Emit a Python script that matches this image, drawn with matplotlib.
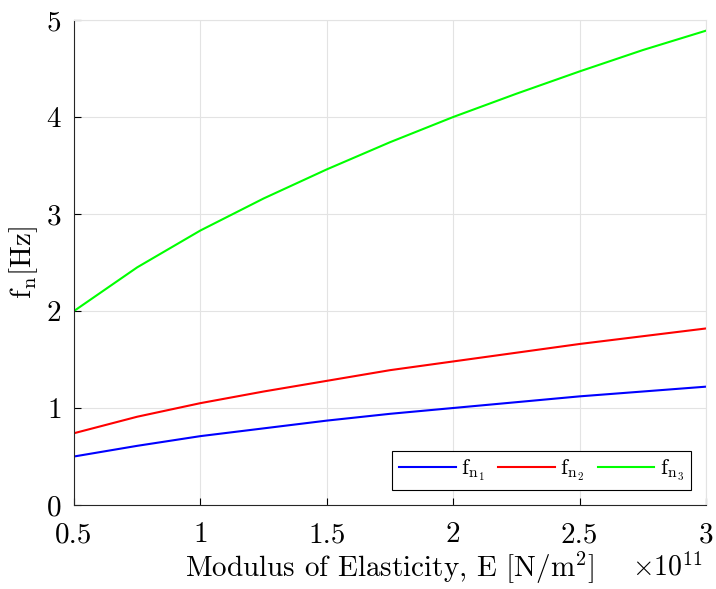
import matplotlib
matplotlib.use('Agg')
import matplotlib.pyplot as plt

# Computer Modern look, like a MATLAB/LaTeX figure
plt.rcParams['font.family'] = 'serif'
plt.rcParams['font.serif'] = ['cmr10', 'DejaVu Serif']
plt.rcParams['mathtext.fontset'] = 'cm'
plt.rcParams['axes.formatter.use_mathtext'] = True

### Data (E in units of 1e11 N/m^2) ###
E = [0.5, 0.75, 1.0, 1.25, 1.5, 1.75, 2.0, 2.25, 2.5, 2.75, 3.0]
fn1 = [0.50, 0.61, 0.71, 0.79, 0.87, 0.94, 1.00, 1.06, 1.12, 1.17, 1.22]
fn2 = [0.74, 0.91, 1.05, 1.17, 1.28, 1.39, 1.48, 1.57, 1.66, 1.74, 1.82]
fn3 = [2.00, 2.45, 2.83, 3.16, 3.46, 3.74, 4.00, 4.24, 4.47, 4.69, 4.89]

xticks = [0.5, 1, 1.5, 2, 2.5, 3]
xticklabels = ['0.5', '1', '1.5', '2', '2.5', '3']
yticks = [0, 1, 2, 3, 4, 5]

fig = plt.figure(figsize=(7.16, 5.89), dpi=100)
ax = fig.add_axes([74/716, 84/589, 632/716, 485/589])

ax.plot(E, fn1, color='#0000ff', lw=1.5, label=r'$\mathrm{f_{n_1}}$')
ax.plot(E, fn2, color='#ff0000', lw=1.5, label=r'$\mathrm{f_{n_2}}$')
ax.plot(E, fn3, color='#00ff00', lw=1.5, label=r'$\mathrm{f_{n_3}}$')

ax.set_xlim(0.5, 3)
ax.set_ylim(0, 5)
ax.set_xticks(xticks)
ax.set_xticklabels(xticklabels)
ax.set_yticks(yticks)
ax.grid(True, color='#e3e3e3', lw=0.8)
ax.set_axisbelow(True)
ax.tick_params(direction='in', length=5, width=0.8, labelsize=21,
               top=False, right=False)
ax.tick_params(axis='x', pad=12)
ax.tick_params(axis='y', pad=9)
for s in ['top', 'right']:
    ax.spines[s].set_color('#e3e3e3')
for s in ['left', 'bottom']:
    ax.spines[s].set_color('#262626')
    ax.spines[s].set_linewidth(0.8)

ax.set_xlabel(r'Modulus of Elasticity, E [N/m$^2$]', fontsize=21, labelpad=1)
ax.set_ylabel(r'$\mathrm{f_n}$[Hz]', fontsize=21, labelpad=4)
ax.text(0.995, -0.128, r'$\times 10^{11}$', transform=ax.transAxes,
        ha='right', va='center', fontsize=20)

leg = ax.legend(loc='lower right', ncol=3, fontsize=16, frameon=True,
                fancybox=False, edgecolor='black', framealpha=1,
                handlelength=2.55, columnspacing=0.6, handletextpad=0.25,
                borderpad=0.3, borderaxespad=0, bbox_to_anchor=(0.976, 0.031))
leg.get_frame().set_linewidth(0.8)

fig.savefig('out.png', dpi=100)
